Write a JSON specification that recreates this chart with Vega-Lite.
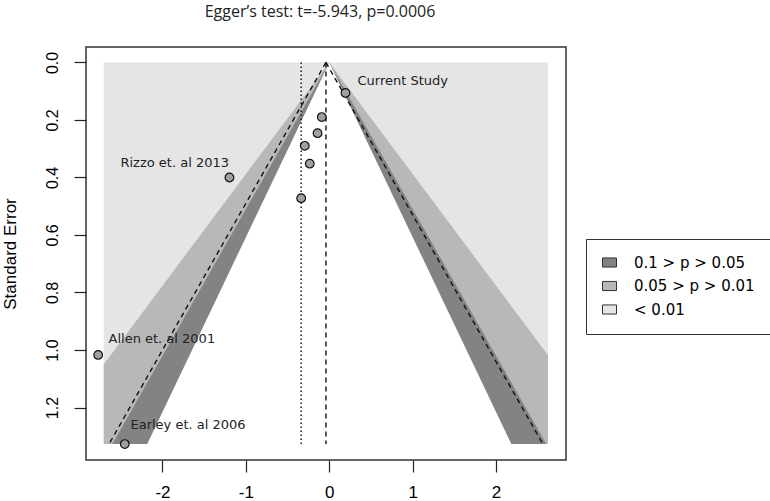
{
  "$schema": "https://vega.github.io/schema/vega-lite/v6.json",
  "width": 480,
  "height": 413,
  "autosize": "none",
  "padding": {"left": 86, "top": 47, "right": 204, "bottom": 41},
  "background": "white",
  "title": {
    "text": "Egger’s test: t=-5.943, p=0.0006",
    "font": "Open Sans",
    "fontSize": 16,
    "fontWeight": "normal",
    "color": "#222",
    "anchor": "middle",
    "frame": "group",
    "dx": -6,
    "offset": 14,
    "baseline": "alphabetic"
  },
  "config": {
    "view": {"stroke": "#333", "strokeWidth": 1.5},
    "axis": {
      "grid": false,
      "domain": false,
      "tickColor": "#222",
      "tickSize": 12,
      "tickWidth": 1.2,
      "labelColor": "#000",
      "titleColor": "#000",
      "labelFont": "Liberation Sans",
      "titleFont": "Liberation Sans",
      "titleFontWeight": "normal"
    },
    "legend": {
      "orient": "none",
      "legendX": 500,
      "legendY": 192,
      "strokeColor": "#333",
      "padding": 16,
      "rowPadding": 7.5,
      "labelFont": "DejaVu Sans",
      "labelFontSize": 15,
      "labelColor": "#000",
      "labelOffset": 17,
      "symbolType": "M-1,-0.65L1,-0.65L1,0.65L-1,0.65Z",
      "symbolSize": 196,
      "symbolStrokeColor": "#333",
      "symbolStrokeWidth": 1,
      "labelLimit": 300
    }
  },
  "datasets": {
    "bg": [
      {"band": "< 0.01", "x": -2.704, "x2": 2.622, "se": 0, "se2": 1.327}
    ],
    "bands": [
      {"band": "0.05 > p > 0.01", "se": 0, "x": 0, "x2": 0},
      {"band": "0.05 > p > 0.01", "se": 1.0179, "x": -2.622, "x2": 2.622},
      {"band": "0.05 > p > 0.01", "se": 1.0497, "x": -2.704, "x2": 2.622},
      {"band": "0.05 > p > 0.01", "se": 1.327, "x": -2.704, "x2": 2.622},
      {"band": "0.1 > p > 0.05", "se": 0, "x": 0, "x2": 0},
      {"band": "0.1 > p > 0.05", "se": 1.327, "x": -2.601, "x2": 2.601},
      {"band": "white", "se": 0, "x": 0, "x2": 0},
      {"band": "white", "se": 1.327, "x": -2.183, "x2": 2.183}
    ],
    "rules": [
      {"kind": "dash", "x": -0.04, "se": 0, "x2": -2.641, "se2": 1.327},
      {"kind": "dash", "x": -0.04, "se": 0, "x2": 2.561, "se2": 1.327},
      {"kind": "dash", "x": -0.04, "se": 0, "x2": -0.04, "se2": 1.327},
      {"kind": "dot", "x": -0.337, "se": 0, "x2": -0.337, "se2": 1.327}
    ],
    "studies": [
      {"study": "Rizzo et. al 2013", "x": -1.197, "se": 0.400},
      {"study": "s2", "x": -0.337, "se": 0.472},
      {"study": "s3", "x": -0.234, "se": 0.352},
      {"study": "s4", "x": -0.294, "se": 0.290},
      {"study": "s5", "x": -0.141, "se": 0.246},
      {"study": "s6", "x": -0.090, "se": 0.190},
      {"study": "Current Study", "x": 0.194, "se": 0.106},
      {"study": "Allen et. al 2001", "x": -2.771, "se": 1.017},
      {"study": "Earley et. al 2006", "x": -2.452, "se": 1.327}
    ],
    "labels": [
      {"text": "Rizzo et. al 2013", "x": -2.504, "se": 0.3513},
      {"text": "Current Study", "x": 0.338, "se": 0.0661},
      {"text": "Allen et. al 2001", "x": -2.647, "se": 0.962},
      {"text": "Earley et. al 2006", "x": -2.384, "se": 1.260}
    ]
  },
  "encoding": {
    "x": {
      "field": "x",
      "type": "quantitative",
      "scale": {"domain": [-2.917, 2.838], "nice": false, "zero": false},
      "axis": {
        "title": null,
        "values": [-2, -1, 0, 1, 2],
        "labelFontSize": 17,
        "labelPadding": 12,
        "labelBaseline": "top",
        "labelExpr": "datum.value < 0 ? '-' + abs(datum.value) : '' + datum.value"
      }
    },
    "y": {
      "field": "se",
      "type": "quantitative",
      "scale": {"domain": [-0.0536, 1.3824], "nice": false, "zero": false, "reverse": true},
      "axis": {
        "title": "Standard Error",
        "titleFontSize": 17,
        "titleAngle": 270,
        "titleBaseline": "middle",
        "titleX": -76,
        "values": [0, 0.2, 0.4, 0.6, 0.8, 1.0, 1.2],
        "format": ".1f",
        "labelFontSize": 16,
        "labelAngle": 270,
        "labelAlign": "center",
        "labelBaseline": "bottom",
        "labelPadding": 14
      }
    }
  },
  "layer": [
    {
      "data": {"name": "bg"},
      "mark": {"type": "rect"},
      "encoding": {
        "x2": {"field": "x2"},
        "y2": {"field": "se2"},
        "color": {
          "field": "band",
          "type": "nominal",
          "scale": {
            "domain": ["0.1 > p > 0.05", "0.05 > p > 0.01", "< 0.01"],
            "range": ["#838383", "#b8b8b8", "#e5e5e5"]
          },
          "legend": {"title": null}
        }
      }
    },
    {
      "data": {"name": "bands"},
      "transform": [{"filter": "datum.band === '0.05 > p > 0.01'"}],
      "mark": {"type": "area", "orient": "horizontal", "interpolate": "linear"},
      "encoding": {
        "x2": {"field": "x2"},
        "color": {"field": "band", "type": "nominal"}
      }
    },
    {
      "data": {"name": "bands"},
      "transform": [{"filter": "datum.band === '0.1 > p > 0.05'"}],
      "mark": {"type": "area", "orient": "horizontal", "interpolate": "linear"},
      "encoding": {
        "x2": {"field": "x2"},
        "color": {"field": "band", "type": "nominal"}
      }
    },
    {
      "data": {"name": "bands"},
      "transform": [{"filter": "datum.band === 'white'"}],
      "mark": {"type": "area", "orient": "horizontal", "interpolate": "linear", "color": "white"},
      "encoding": {
        "x2": {"field": "x2"}
      }
    },
    {
      "data": {"name": "rules"},
      "transform": [{"filter": "datum.kind === 'dash'"}],
      "mark": {"type": "rule", "color": "#111", "strokeWidth": 1.4, "strokeDash": [5, 4]},
      "encoding": {
        "x2": {"field": "x2"},
        "y2": {"field": "se2"}
      }
    },
    {
      "data": {"name": "rules"},
      "transform": [{"filter": "datum.kind === 'dot'"}],
      "mark": {"type": "rule", "color": "#111", "strokeWidth": 1.4, "strokeDash": [1.5, 2.5]},
      "encoding": {
        "x2": {"field": "x2"},
        "y2": {"field": "se2"}
      }
    },
    {
      "data": {"name": "studies"},
      "mark": {"type": "point", "shape": "circle", "filled": true, "size": 75, "fill": "#a0a0a0", "stroke": "#111", "strokeWidth": 1.2, "opacity": 1}
    },
    {
      "data": {"name": "labels"},
      "mark": {"type": "text", "font": "DejaVu Sans", "fontSize": 13, "align": "left", "baseline": "middle", "color": "#222"},
      "encoding": {
        "text": {"field": "text"}
      }
    }
  ]
}
